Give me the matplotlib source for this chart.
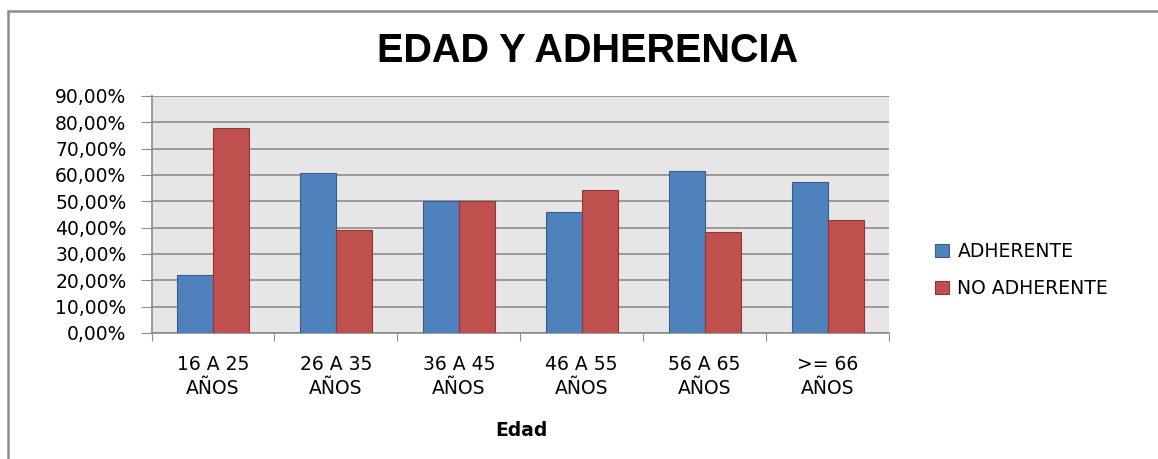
import numpy as np
import matplotlib.pyplot as plt
from matplotlib.patches import Rectangle

categories = ["16 A 25\nAÑOS", "26 A 35\nAÑOS", "36 A 45\nAÑOS",
              "46 A 55\nAÑOS", "56 A 65\nAÑOS", ">= 66\nAÑOS"]
adherente = [22.2, 60.9, 50.0, 45.8, 61.6, 57.2]
no_adherente = [77.8, 39.1, 50.0, 54.2, 38.4, 42.8]
yticks = [0, 10, 20, 30, 40, 50, 60, 70, 80, 90]

W, H = 1158, 459
fig = plt.figure(figsize=(W / 100, H / 100), dpi=100)

# outer chart frame (runs off the right and bottom edges)
fig.patches.append(Rectangle((8 / W, -0.1), 1.2, 1 - 11 / H + 0.1,
                             transform=fig.transFigure, fill=False,
                             edgecolor="#8c8c8c", linewidth=1.8))

ax = fig.add_axes([151.5 / W, 1 - 333 / H, (889 - 151.5) / W, (333 - 96) / H])
ax.set_facecolor("#e6e6e6")

x = np.arange(len(categories))
bw = 0.293
ax.bar(x - bw / 2, adherente, bw, color="#4f81bd", edgecolor="#385d8a",
       linewidth=0.8, label="ADHERENTE", zorder=3)
ax.bar(x + bw / 2, no_adherente, bw, color="#c0504d", edgecolor="#8c3836",
       linewidth=0.8, label="NO ADHERENTE", zorder=3)

ax.set_xlim(-0.5, len(categories) - 0.5)
ax.set_ylim(0, 90)
ax.set_yticks(yticks)
ax.set_yticklabels([f"{v:.2f}%".replace(".", ",") for v in yticks])
ax.yaxis.grid(True, color="#8c8c8c", linewidth=1.2, zorder=1)

ax.set_xticks(np.arange(len(categories) + 1) - 0.5, minor=False)
ax.set_xticklabels([])
ax.set_xticks(x, minor=True)
ax.set_xticklabels(categories, minor=True, fontsize=13.5, linespacing=1.35)
ax.tick_params(axis="x", which="minor", length=0, pad=16)
ax.tick_params(axis="x", which="major", length=6, color="#8c8c8c", direction="out")
ax.tick_params(axis="y", length=8, color="#8c8c8c", labelsize=13.5, pad=10)

for s in ["top", "right"]:
    ax.spines[s].set_visible(False)
ax.spines["left"].set_color("#8c8c8c")
ax.spines["left"].set_linewidth(1.2)
ax.spines["bottom"].set_color("#8c8c8c")
ax.spines["bottom"].set_linewidth(1.2)

fig.text(521 / W, 1 - 431 / H, "Edad", ha="center", va="center",
         fontsize=13.5, fontweight="bold")
fig.text(588 / W, 1 - 51 / H, "EDAD Y ADHERENCIA", ha="center", va="center",
         fontsize=28.5, fontweight="bold", family="Liberation Sans")

leg = ax.legend(loc="center left", bbox_to_anchor=(918 / W, 1 - 270 / H),
                bbox_transform=fig.transFigure, frameon=False, fontsize=13.5,
                handlelength=0.75, handleheight=0.75, handletextpad=0.45,
                labelspacing=0.95)

fig.savefig("out.png", dpi=100)
